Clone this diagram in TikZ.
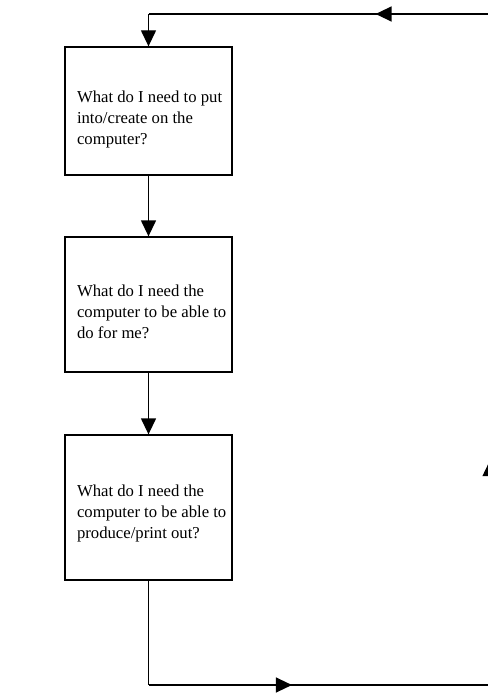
\documentclass[tikz,border=0pt]{standalone}
\usepackage{fontspec}
\setmainfont{Liberation Serif}
\usetikzlibrary{arrows.meta,decorations.markings}
\newcommand\qtext[3]{\parbox[c][#1][t]{156pt}{\vspace*{#2}\raggedright\leftskip=6.5pt #3}}
\begin{document}
\begin{tikzpicture}[x=1pt,y=-1pt,
  line width=1.3pt,
  qbox/.style={draw, rectangle, line width=1.3pt, minimum width=167pt,
    inner sep=0pt, font=\fontsize{16.7}{21}\selectfont},
  tip/.style={-{Triangle[length=16pt,width=15pt]}},
  midarr/.style={postaction={decorate}, decoration={markings,
    mark=at position #1 with {\arrow{Triangle[length=16pt,width=15pt]}}}}]
\useasboundingbox (0,0) rectangle (487,693);
\node[qbox] (b1) at (148.5,111) {\qtext{128pt}{44pt}{What do I need to put into/create on the computer?}};
\node[qbox] (b2) at (148.5,304.5) {\qtext{135pt}{48pt}{What do I need the computer to be able to do for me?}};
\node[qbox] (b3) at (148.5,507.5) {\qtext{145pt}{50pt}{What do I need the computer to be able to produce/print out?}};
\coordinate (c1) at (148.5,685);
\coordinate (c2) at (490,685);
\coordinate (c3) at (490,14);
\coordinate (c4) at (148.5,14);
\draw[tip] (b1) -- (b2);
\draw[tip] (b2) -- (b3);
\draw (b3) -- (c1);
\draw[midarr=0.42] (c1) -- (c2);
\draw[midarr=0.335] (c2) -- (c3);
\draw[midarr=0.335] (c3) -- (c4);
\draw[tip] (c4) -- (b1);
\end{tikzpicture}
\end{document}
